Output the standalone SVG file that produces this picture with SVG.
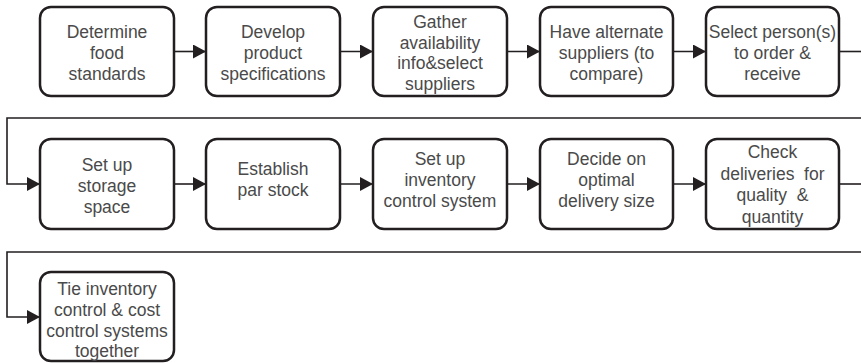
<svg xmlns="http://www.w3.org/2000/svg" width="861" height="363" viewBox="0 0 861 363">
<style>
.box{fill:#fff;stroke:#231f20;stroke-width:2.5}
.t{font-family:"Liberation Sans",Arial,sans-serif;font-size:17.5px;fill:#4a4a4a;text-anchor:middle}
.c{fill:none;stroke:#231f20;stroke-width:1.6}
</style>
<defs>
<marker id="ah" markerWidth="13" markerHeight="14" refX="13" refY="7" orient="auto" markerUnits="userSpaceOnUse">
<path d="M0,0 L13,7 L0,14 Z" fill="#231f20"/>
</marker>
</defs>
<g id="connectors">
<line class="c" x1="174" y1="51.5" x2="206" y2="51.5" marker-end="url(#ah)"/>
<line class="c" x1="340" y1="51.5" x2="373" y2="51.5" marker-end="url(#ah)"/>
<line class="c" x1="507" y1="51.5" x2="540" y2="51.5" marker-end="url(#ah)"/>
<line class="c" x1="673" y1="51.5" x2="706" y2="51.5" marker-end="url(#ah)"/>
<polyline class="c" points="839,51.5 861,51.5"/>
<polyline class="c" points="861,118 7,118 7,184 40,184" marker-end="url(#ah)"/>
<line class="c" x1="174" y1="184" x2="206" y2="184" marker-end="url(#ah)"/>
<line class="c" x1="340" y1="184" x2="373" y2="184" marker-end="url(#ah)"/>
<line class="c" x1="507" y1="184" x2="540" y2="184" marker-end="url(#ah)"/>
<line class="c" x1="673" y1="184" x2="706" y2="184" marker-end="url(#ah)"/>
<polyline class="c" points="839,184 861,184"/>
<polyline class="c" points="861,252 7,252 7,317 40,317" marker-end="url(#ah)"/>
</g>
<g id="n1"><rect class="box" x="40" y="7" width="134" height="89" rx="11"/>
<text class="t"><tspan x="107" y="38">Determine</tspan><tspan x="107" y="59">food</tspan><tspan x="107" y="80">standards</tspan></text></g>
<g id="n2"><rect class="box" x="206" y="7" width="134" height="89" rx="11"/>
<text class="t"><tspan x="273" y="38">Develop</tspan><tspan x="273" y="59">product</tspan><tspan x="273" y="80">specifications</tspan></text></g>
<g id="n3"><rect class="box" x="373" y="7" width="134" height="89" rx="11"/>
<text class="t"><tspan x="440" y="28">Gather</tspan><tspan x="440" y="48.5">availability</tspan><tspan x="440" y="69">info&amp;select</tspan><tspan x="440" y="89.5">suppliers</tspan></text></g>
<g id="n4"><rect class="box" x="540" y="7" width="133" height="89" rx="11"/>
<text class="t"><tspan x="606.5" y="38">Have alternate</tspan><tspan x="606.5" y="59">suppliers (to</tspan><tspan x="606.5" y="80">compare)</tspan></text></g>
<g id="n5"><rect class="box" x="706" y="7" width="133" height="89" rx="11"/>
<text class="t"><tspan x="772.5" y="38">Select person(s)</tspan><tspan x="772.5" y="59">to order &amp;</tspan><tspan x="772.5" y="80">receive</tspan></text></g>
<g id="n6"><rect class="box" x="40" y="139" width="134" height="90" rx="11"/>
<text class="t"><tspan x="107" y="171">Set up</tspan><tspan x="107" y="192">storage</tspan><tspan x="107" y="213">space</tspan></text></g>
<g id="n7"><rect class="box" x="206" y="139" width="134" height="90" rx="11"/>
<text class="t"><tspan x="273" y="175">Establish</tspan><tspan x="273" y="196">par stock</tspan></text></g>
<g id="n8"><rect class="box" x="373" y="139" width="134" height="90" rx="11"/>
<text class="t"><tspan x="440" y="165">Set up</tspan><tspan x="440" y="186">inventory</tspan><tspan x="440" y="207">control system</tspan></text></g>
<g id="n9"><rect class="box" x="540" y="139" width="133" height="90" rx="11"/>
<text class="t"><tspan x="606.5" y="165">Decide on</tspan><tspan x="606.5" y="186">optimal</tspan><tspan x="606.5" y="207">delivery size</tspan></text></g>
<g id="n10"><rect class="box" x="706" y="139" width="133" height="90" rx="11"/>
<text class="t" style="white-space:pre"><tspan x="772.5" y="158">Check</tspan><tspan x="772.5" y="179.5">deliveries  for</tspan><tspan x="772.5" y="201">quality  &amp;</tspan><tspan x="772.5" y="222.5">quantity</tspan></text></g>
<g id="n11"><rect class="box" x="40" y="272" width="134" height="89" rx="11"/>
<text class="t"><tspan x="107" y="295">Tie inventory</tspan><tspan x="107" y="316">control &amp; cost</tspan><tspan x="107" y="337">control systems</tspan><tspan x="107" y="357">together</tspan></text></g>
</svg>
